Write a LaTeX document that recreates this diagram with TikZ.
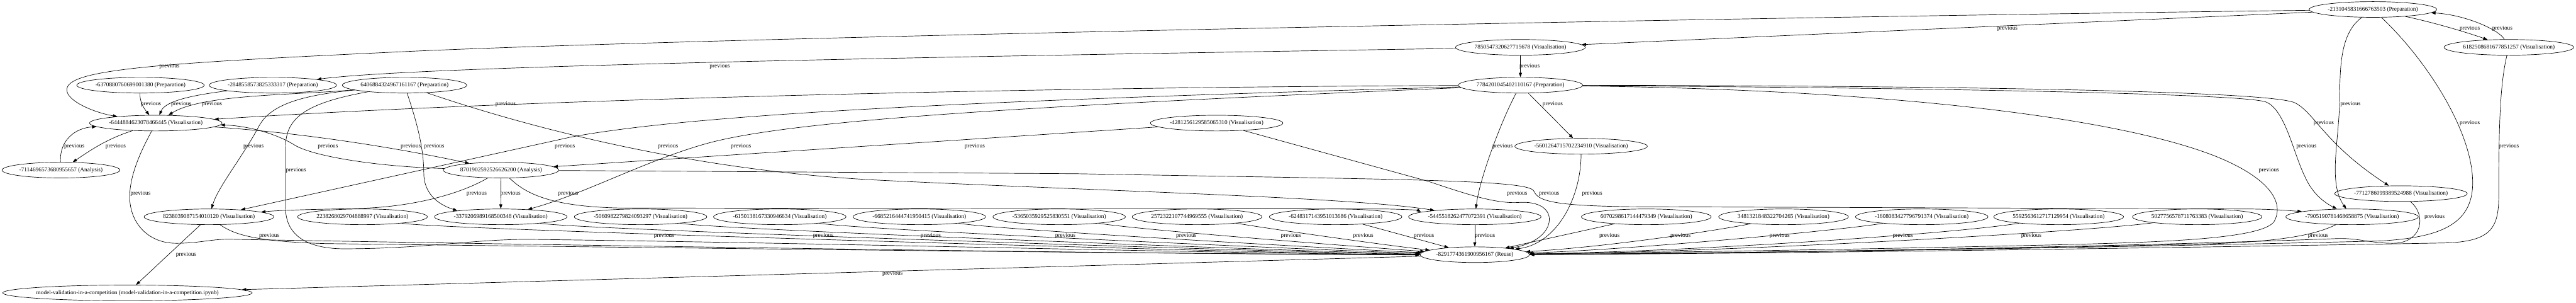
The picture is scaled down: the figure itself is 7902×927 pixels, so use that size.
\documentclass[tikz,border=0pt]{standalone}
\usepackage{fontspec}
\setmainfont{Liberation Serif}
\usetikzlibrary{shapes.geometric,arrows.meta}
\newcommand\gvf{\fontsize{13.5pt}{16pt}\selectfont}
\tikzset{
  nd/.style={ellipse,draw,line width=1pt,inner xsep=0pt,inner ysep=0pt,minimum height=36pt,font=\gvf},
  ed/.style={draw,line width=1pt,-{Triangle[length=10pt,width=7pt]}},
  lb/.style={inner sep=0pt,font=\gvf}
}
\begin{document}
\begin{tikzpicture}[x=0.75pt,y=-0.75pt]
\path[use as bounding box,fill=white] (0,0) rectangle (7902,927);
% nodes
\node[nd] (n2131) at (7279,29) {-2131045831666763503 (Preparation)};
\node[nd] (n7850) at (4664,145) {7850547320627715678 (Visualisation)};
\node[nd] (n6182) at (7696,145) {6182508681677851257 (Visualisation)};
\node[nd] (n6370) at (431,261) {-6370880760699001380 (Preparation)};
\node[nd] (n2848) at (837,261) {-2848558573825333317 (Preparation)};
\node[nd] (n6406) at (1241,261) {6406884324967161167 (Preparation)};
\node[nd] (n7784) at (4664,261) {7784201045402110167 (Preparation)};
\node[nd] (n6444) at (478,377) {-6444884623078466445 (Visualisation)};
\node[nd] (n4281) at (3732,377) {-4281256129585065310 (Visualisation)};
\node[nd] (n5601) at (4850,448) {-5601264715702234910 (Visualisation)};
\node[nd] (n7114) at (187,521) {-7114696573680955657 (Analysis)};
\node[nd] (n8701) at (1537,521) {8701902592526626200 (Analysis)};
\node[nd] (n7712) at (7365,593) {-7712786099389524988 (Visualisation)};
\node[nd] (n8238) at (641,664) {8238039087154010120 (Visualisation)};
\node[nd] (n2238) at (1112,664) {2238268029704888997 (Visualisation)};
\node[nd] (n3379) at (1536,664) {-3379206989168500348 (Visualisation)};
\node[nd] (n5060) at (1965,664) {-5060982279824093297 (Visualisation)};
\node[nd] (n6150) at (2392,664) {-6150138167330946634 (Visualisation)};
\node[nd] (n6685) at (2820,664) {-6685216444741950415 (Visualisation)};
\node[nd] (n5365) at (3249,664) {-5365035929525830551 (Visualisation)};
\node[nd] (n2572) at (3672,664) {2572322107744969555 (Visualisation)};
\node[nd] (n6248) at (4097,664) {-6248317143951013686 (Visualisation)};
\node[nd] (n5445) at (4524,664) {-5445518262477072391 (Visualisation)};
\node[nd] (n6070) at (5050,664) {6070298617144479349 (Visualisation)};
\node[nd] (n3481) at (5471,664) {3481321848322704265 (Visualisation)};
\node[nd] (n1608) at (5895,664) {-1608083427796791374 (Visualisation)};
\node[nd] (n5592) at (6315,664) {5592563612717129954 (Visualisation)};
\node[nd] (n5027) at (6740,664) {5027756578711763383 (Visualisation)};
\node[nd] (n7905) at (7215,664) {-7905190781468658875 (Visualisation)};
\node[nd] (n8291) at (4524,780) {-8291774361900956167 (Reuse)};
\node[nd,inner xsep=-7pt] (nmodel) at (391,897) {model-validation-in-a-competition (model-validation-in-a-competition.ipynb)};
% edges
\draw[ed] (n2131) .. controls (5000,58) and (2000,120) .. (1200,160) .. controls (450,195) and (205,215) .. (205,275) .. controls (205,310) and (290,345) .. (n6444);
\draw[ed] (n7850) .. controls (3000,172) and (1300,200) .. (n2848);
\draw[ed] (n7850) -- (n7784);
\draw[ed] (n2131) -- (n7850);
\draw[ed] (n2131) .. controls (7470,70) and (7570,100) .. (n6182);
\draw[ed] (n6182) .. controls (7665,90) and (7560,45) .. (n2131);
\draw[ed] (n6370) .. controls (428,310) and (440,330) .. (n6444);
\draw[ed] (n2848) .. controls (560,295) and (505,315) .. (n6444);
\draw[ed] (n6406) .. controls (900,292) and (620,288) .. (n6444);
\draw[ed] (n7784) .. controls (3000,268) and (1500,310) .. (n6444);
\draw[ed] (n7784) .. controls (3100,305) and (2150,345) .. (1750,420) -- (n8238);
\draw[ed] (n7784) .. controls (3000,330) and (2400,375) .. (2166,440) .. controls (1980,492) and (1790,595) .. (n3379);
\draw[ed] (n7784) -- (n5601);
\draw[ed] (n7784) .. controls (4610,360) and (4540,540) .. (n5445);
\draw[ed] (n7784) .. controls (5800,262) and (6960,275) .. (7040,315) .. controls (7100,345) and (7130,440) .. (n7712);
\draw[ed] (n7784) .. controls (5800,268) and (6870,285) .. (6950,312) .. controls (7010,335) and (7035,470) .. (7070,540) .. controls (7090,585) and (7120,615) .. (n7905);
\draw[ed] (n7784) .. controls (5800,275) and (6500,360) .. (6800,480) .. controls (6960,545) and (7010,620) .. (6975,680) .. controls (6930,735) and (6600,742) .. (6300,750) .. controls (5600,766) and (5000,774) .. (n8291);
\draw[ed] (n2131) .. controls (7180,100) and (7178,200) .. (7177,300) .. controls (7176,430) and (7140,560) .. (n7905);
\draw[ed] (n2131) .. controls (7440,180) and (7585,400) .. (7585,560) .. controls (7585,690) and (7480,728) .. (7300,738) .. controls (6500,758) and (5300,776) .. (n8291);
\draw[ed] (n6182) .. controls (7668,260) and (7665,400) .. (7665,600) .. controls (7665,700) and (7640,740) .. (7500,744) .. controls (6500,762) and (5300,778) .. (n8291);
\draw[ed] (n7905) .. controls (7100,720) and (7000,738) .. (6800,746) .. controls (6000,766) and (5200,776) .. (n8291);
\draw[ed] (n7712) .. controls (7445,660) and (7430,745) .. (7340,745) .. controls (7270,745) and (7230,727) .. (7160,731) .. controls (6500,756) and (5300,777) .. (n8291);
\draw[ed] (n5027) .. controls (6400,710) and (5300,772) .. (n8291);
\draw[ed] (n5592) .. controls (6000,715) and (5200,770) .. (n8291);
\draw[ed] (n1608) .. controls (5650,705) and (5000,765) .. (n8291);
\draw[ed] (n3481) .. controls (5300,700) and (4950,755) .. (n8291);
\draw[ed] (n6070) -- (n8291);
\draw[ed] (n5445) -- (n8291);
\draw[ed] (n6248) -- (n8291);
\draw[ed] (n2572) .. controls (3922,705) and (4280,755) .. (n8291);
\draw[ed] (n5365) .. controls (3499,705) and (4250,762) .. (n8291);
\draw[ed] (n6685) .. controls (3070,705) and (4220,768) .. (n8291);
\draw[ed] (n6150) .. controls (2642,705) and (4200,772) .. (n8291);
\draw[ed] (n5060) .. controls (2215,705) and (4180,776) .. (n8291);
\draw[ed] (n3379) .. controls (1786,705) and (4150,778) .. (n8291);
\draw[ed] (n2238) .. controls (1362,705) and (4150,782) .. (n8291);
\draw[ed] (n8238) .. controls (720,720) and (790,740) .. (1000,746) .. controls (2500,765) and (3900,780) .. (n8291);
\draw[ed] (n6444) .. controls (445,440) and (395,530) .. (398,610) .. controls (402,690) and (460,745) .. (540,745) .. controls (620,745) and (650,730) .. (720,733) .. controls (1800,752) and (3600,780) .. (n8291);
\draw[ed] (n6406) .. controls (940,315) and (876,360) .. (876,450) -- (876,640) .. controls (878,720) and (940,760) .. (1050,762) .. controls (1300,762) and (1450,733) .. (1620,733) .. controls (2600,745) and (3800,778) .. (n8291);
\draw[ed] (n8701) .. controls (1150,510) and (960,478) .. (905,445) .. controls (850,410) and (760,385) .. (n6444);
\draw[ed] (n6444) .. controls (900,405) and (1180,445) .. (n8701);
\draw[ed] (n7114) .. controls (182,430) and (230,392) .. (n6444);
\draw[ed] (n6444) .. controls (330,425) and (285,455) .. (n7114);
\draw[ed] (n6406) .. controls (920,292) and (830,322) .. (795,385) .. controls (745,480) and (670,570) .. (n8238);
\draw[ed] (n8701) .. controls (1420,590) and (1280,632) .. (1110,638) .. controls (1000,641) and (880,642) .. (n8238);
\draw[ed] (n8701) -- (n3379);
\draw[ed] (n6406) .. controls (1270,350) and (1300,440) .. (1300,530) .. controls (1300,590) and (1340,625) .. (n3379.172);
\draw[ed] (n8701) .. controls (1610,590) and (1680,632) .. (1900,637) -- (4250,640) .. controls (4310,641) and (4350,644) .. (n5445.175);
\draw[ed] (n6406) .. controls (1650,400) and (2150,525) .. (2700,552) .. controls (3400,586) and (4150,604) .. (n5445.171);
\draw[ed] (n4281) -- (n8701);
\draw[ed] (n4281) -- (4380,555) .. controls (4500,595) and (4590,625) .. (4660,620) .. controls (4720,616) and (4758,640) .. (4752,680) .. controls (4745,720) and (4700,748) .. (n8291);
\draw[ed] (n5601) .. controls (4850,600) and (4780,745) .. (n8291);
\draw[ed] (n8701) -- (3300,532) .. controls (4300,550) and (4690,550) .. (4705,585) .. controls (4718,615) and (4760,630) .. (5000,633) -- (6900,640) .. controls (6980,641) and (7020,645) .. (n7905.174);
\draw[ed] (n8238) -- (nmodel);
\draw[ed] (n8291) -- (nmodel);
% labels
\node[lb] (l1) at (520,203) {previous};
\node[lb] (l2) at (2208,203) {previous};
\node[lb] (l3) at (4692,203) {previous};
\node[lb] (l4) at (6158,87) {previous};
\node[lb] (l5) at (7576,87) {previous};
\node[lb] (l6) at (7676,87) {previous};
\node[lb] (l7) at (463,319) {previous};
\node[lb] (l8) at (556,319) {previous};
\node[lb] (l9) at (650,319) {previous};
\node[lb] (l10) at (1551,319) {previous};
\node[lb] (l11) at (4763,319) {previous};
\node[lb] (l12) at (7210,319) {previous};
\node[lb] (l13) at (7128,377) {previous};
\node[lb] (l14) at (7576,377) {previous};
\node[lb] (l15) at (228,448) {previous};
\node[lb] (l16) at (355,448) {previous};
\node[lb] (l17) at (778,448) {previous};
\node[lb] (l18) at (1006,448) {previous};
\node[lb] (l19) at (1260,448) {previous};
\node[lb] (l20) at (1332,448) {previous};
\node[lb] (l21) at (1733,448) {previous};
\node[lb] (l22) at (2049,448) {previous};
\node[lb] (l23) at (2273,448) {previous};
\node[lb] (l24) at (2990,448) {previous};
\node[lb] (l25) at (4609,448) {previous};
\node[lb] (l26) at (7075,448) {previous};
\node[lb] (l27) at (7696,448) {previous};
\node[lb] (l28) at (908,521) {previous};
\node[lb] (l29) at (6960,521) {previous};
\node[lb] (l30) at (431,593) {previous};
\node[lb] (l31) at (1462,593) {previous};
\node[lb] (l32) at (1566,593) {previous};
\node[lb] (l33) at (1743,593) {previous};
\node[lb] (l34) at (4654,593) {previous};
\node[lb] (l35) at (4752,593) {previous};
\node[lb] (l36) at (4884,593) {previous};
\node[lb] (l37) at (7468,664) {previous};
\node[lb] (l38) at (826,723) {previous};
\node[lb] (l39) at (2037,723) {previous};
\node[lb] (l40) at (2525,723) {previous};
\node[lb] (l41) at (2855,723) {previous};
\node[lb] (l42) at (3268,723) {previous};
\node[lb] (l43) at (3639,723) {previous};
\node[lb] (l44) at (3960,723) {previous};
\node[lb] (l45) at (4182,723) {previous};
\node[lb] (l46) at (4368,723) {previous};
\node[lb] (l47) at (4555,723) {previous};
\node[lb] (l48) at (4937,723) {previous};
\node[lb] (l49) at (5155,723) {previous};
\node[lb] (l50) at (5459,723) {previous};
\node[lb] (l51) at (5837,723) {previous};
\node[lb] (l52) at (6231,723) {previous};
\node[lb] (l53) at (7111,723) {previous};
\node[lb] (l54) at (571,781) {previous};
\node[lb] (l55) at (2738,838) {previous};
\end{tikzpicture}
\end{document}
